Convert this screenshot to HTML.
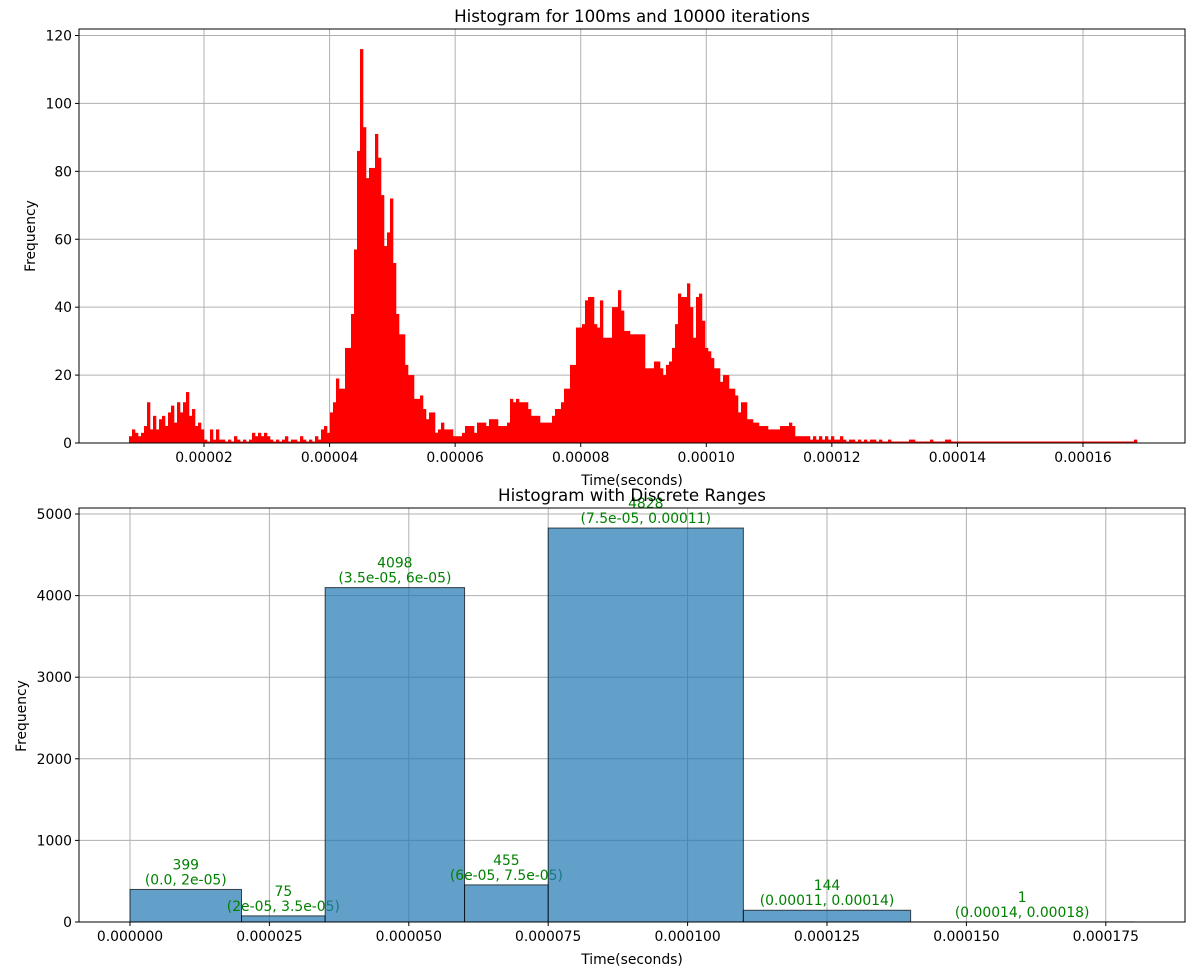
<!DOCTYPE html>
<html><head><meta charset="utf-8"><style>
body{margin:0;background:#fff;}
svg{display:block;font-family:"DejaVu Sans","Liberation Sans",sans-serif;}
</style></head><body>
<svg id="chart" width="1200" height="969" xmlns="http://www.w3.org/2000/svg">
<rect width="1200" height="969" fill="#fff"/>
<g id="top"></g>
<g id="bottom"></g>
</svg>
<script>
// ---- top chart data ----
const topBinStart = 8.055e-6;
const topBinWidth = 4.778e-7;
const topCounts = [
2,4,3,2,3,5,12,4,8,4,7,8,5,9,11,6,12,9,12,15,8,10,5,6,4,
1,0,4,1,4,1,1,0,1,0,2,1,0,1,0,1,3,2,3,2,3,2,1,0,1,0,1,2,0,1,1,0,2,1,0,1,0,2,1,4,5,3,
9,12,19,16,16,28,28,38,57,86,116,93,78,81,81,91,84,73,58,62,72,53,38,32,32,23,20,20,13,13,
14,10,7,9,9,3,4,6,4,4,4,2,2,2,3,5,5,5,3,6,6,6,5,7,7,7,5,5,5,6,13,12,13,12,12,12,10,8,8,8,6,6,6,6,8,10,10,12,16,16,23,23,
34,34,35,42,43,43,35,34,42,31,31,31,40,40,45,39,33,33,32,32,32,32,32,22,22,22,24,24,22,20,23,24,28,35,44,43,43,47,40,31,43,44,36,28,27,25,22,22,18,20,20,16,16,14,9,12,12,7,7,6,6,5,5,5,4,4,4,4,5,5,5,6,5,
2,2,2,2,2,1,2,1,2,1,2,1,2,1,1,2,1,0,1,1,0,1,0,1,0,1,1,0,1,0,0,1,0,0,0,0,0,0,1,1,0,0,0,0,0,1,0,0,0,0,1,1,
0,0,0,0,0,0,0,0,0,0,0,0,0,0,0,0,0,0,0,0,0,0,0,0,0,0,0,0,0,0,0,0,0,0,0,0,0,0,0,0,0,0,0,0,0,0,0,0,0,0,0,0,0,0,0,0,0,0,0,0,0,1
];
const topXTicks = [0.00002,0.00004,0.00006,0.00008,0.00010,0.00012,0.00014,0.00016];
const topXTickLabels = ["0.00002","0.00004","0.00006","0.00008","0.00010","0.00012","0.00014","0.00016"];
const topYTicks = [0,20,40,60,80,100,120];

// ---- bottom chart data ----
const binEdges = [0,0.00002,0.000035,0.00006,0.000075,0.00011,0.00014,0.00018];
const binCounts = [399,75,4098,455,4828,144,1];
const binRangeLabels = ["(0.0, 2e-05)","(2e-05, 3.5e-05)","(3.5e-05, 6e-05)","(6e-05, 7.5e-05)","(7.5e-05, 0.00011)","(0.00011, 0.00014)","(0.00014, 0.00018)"];
const botXTicks = [0,0.000025,0.00005,0.000075,0.0001,0.000125,0.00015,0.000175];
const botXTickLabels = ["0.000000","0.000025","0.000050","0.000075","0.000100","0.000125","0.000150","0.000175"];
const botYTicks = [0,1000,2000,3000,4000,5000];

const FS=13.9, TFS=16.67;
const NS="http://www.w3.org/2000/svg";
function mk(parent,tag,attrs,text){const e=document.createElementNS(NS,tag);for(const k in attrs)e.setAttribute(k,attrs[k]);if(text!==undefined)e.textContent=text;parent.appendChild(e);return e;}

// ---- top ----
(function(){
const g=document.getElementById('top');
const L=79,R=1185,T=29,B=443;
const x=v=>204+(v-0.00002)*6278571;
const y=v=>B-v*(B-35.5)/120;
mk(g,'rect',{x:L,y:T,width:R-L,height:B-T,fill:'#fff'});
topXTicks.forEach((t,i)=>{const X=x(t);
 const gl=mk(g,'line',{x1:X,x2:X,y1:T,y2:B,stroke:'#b0b0b0','stroke-width':1});
 
 mk(g,'line',{x1:X,x2:X,y1:B,y2:B+4,stroke:'#000'});
 const tl=mk(g,'text',{x:X,y:B+19,'font-size':FS,'text-anchor':'middle'},topXTickLabels[i]);
 
});
topYTicks.forEach(t=>{const Y=y(t);
 const gl=mk(g,'line',{x1:L,x2:R,y1:Y,y2:Y,stroke:'#b0b0b0','stroke-width':1});
 
 mk(g,'line',{x1:L-4,x2:L,y1:Y,y2:Y,stroke:'#000'});
 const tl=mk(g,'text',{x:L-7,y:Y+5,'font-size':FS,'text-anchor':'end'},String(t));
 
});
const x0=x(topBinStart), x1=x(topBinStart+topBinWidth*topCounts.length);
mk(g,'rect',{x:x0,y:B-1.5,width:x1-x0,height:1.5,fill:'#ff0000'});
topCounts.forEach((c,i)=>{ if(!c) return;
 const a=x(topBinStart+i*topBinWidth), b=x(topBinStart+(i+1)*topBinWidth);
 const r=mk(g,'rect',{x:a,y:y(c),width:b-a+0.3,height:B-y(c),fill:'#ff0000'});
 
 
});
mk(g,'rect',{x:L,y:T,width:R-L,height:B-T,fill:'none',stroke:'#000','stroke-width':1});
const tt=mk(g,'text',{x:632,y:22,'font-size':TFS,'text-anchor':'middle'},'Histogram for 100ms and 10000 iterations');

const xl=mk(g,'text',{x:632,y:485,'font-size':FS,'text-anchor':'middle'},'Time(seconds)');

const yl=mk(g,'text',{x:0,y:0,'font-size':FS,'text-anchor':'middle',transform:'translate(35,236) rotate(-90)'},'Frequency');

})();

// ---- bottom ----
(function(){
const g=document.getElementById('bottom');
const L=79,R=1185,T=508,B=922;
const x=v=>130+v*5576000;
const y=v=>B-v*0.0816;
botXTicks.forEach((t,i)=>{const X=x(t);
 const gl=mk(g,'line',{x1:X,x2:X,y1:T,y2:B,stroke:'#b0b0b0','stroke-width':1});
 
 mk(g,'line',{x1:X,x2:X,y1:B,y2:B+4,stroke:'#000'});
 const tl=mk(g,'text',{x:X,y:B+19,'font-size':FS,'text-anchor':'middle'},botXTickLabels[i]);
 
});
botYTicks.forEach(t=>{const Y=y(t);
 const gl=mk(g,'line',{x1:L,x2:R,y1:Y,y2:Y,stroke:'#b0b0b0','stroke-width':1});
 
 mk(g,'line',{x1:L-4,x2:L,y1:Y,y2:Y,stroke:'#000'});
 const tl=mk(g,'text',{x:L-7,y:Y+5,'font-size':FS,'text-anchor':'end'},String(t));
 
});
binCounts.forEach((c,i)=>{
 const a=x(binEdges[i]), b=x(binEdges[i+1]), Y=y(c);
 const r=mk(g,'rect',{x:a,y:Y,width:b-a,height:B-Y,fill:'rgba(31,119,180,0.7)',stroke:'rgba(0,0,0,0.7)','stroke-width':1});
 
 
 const cx=(a+b)/2;
 const t1=mk(g,'text',{x:cx,y:Y-20,'font-size':FS,'text-anchor':'middle',fill:'#008000'},String(c));
 
 
 const t2=mk(g,'text',{x:cx,y:Y-5,'font-size':FS,'text-anchor':'middle',fill:'#008000'},binRangeLabels[i]);
 
 
});
mk(g,'rect',{x:L,y:T,width:R-L,height:B-T,fill:'none',stroke:'#000','stroke-width':1});
const tt=mk(g,'text',{x:632,y:501,'font-size':TFS,'text-anchor':'middle'},'Histogram with Discrete Ranges');

const xl=mk(g,'text',{x:632,y:964,'font-size':FS,'text-anchor':'middle'},'Time(seconds)');

const yl=mk(g,'text',{x:0,y:0,'font-size':FS,'text-anchor':'middle',transform:'translate(26,716) rotate(-90)'},'Frequency');

})();
</script>
</body></html>
